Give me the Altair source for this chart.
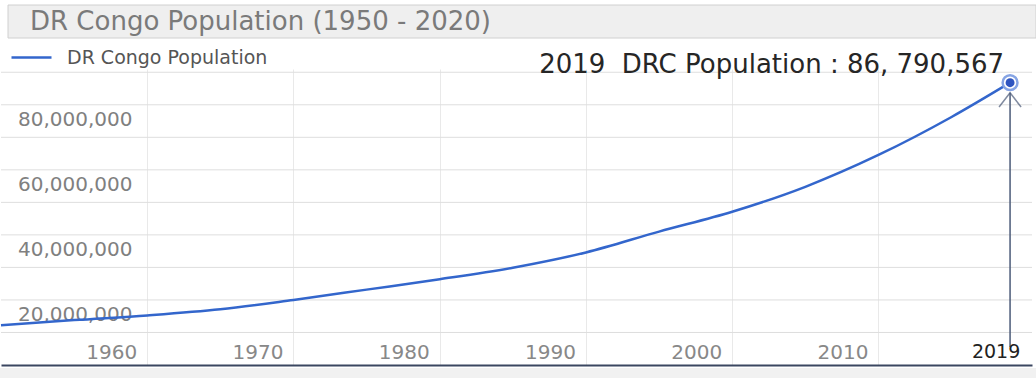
import altair as alt
import pandas as pd

# ---- data ----
years = [1950, 1955, 1960, 1965, 1970, 1975, 1980, 1985, 1990, 1995, 2000, 2005, 2010, 2015, 2019]
population = [12184000, 13800000, 15248000, 17130000, 20010000, 23176000, 26357000, 29906000,
              34612000, 41015000, 47106000, 54786000, 64564000, 76245000, 86790567]
series_name = "DR Congo Population"
title_text = ["DR Congo Population (1950 - 2020)"]

x_ticks = [1960, 1970, 1980, 1990, 2000, 2010]
y_grid = [10000000, 20000000, 30000000, 40000000, 50000000, 60000000, 70000000, 80000000, 90000000]
y_labels = [20000000, 40000000, 60000000, 80000000]

highlight_year = [2019]
highlight_value = [86790567]
highlight_text = ["2019\u00a0 DRC Population : 86, 790,567"]
highlight_tick = ["2019"]
arrow_low = [5500000]
arrow_high = [83700000]

df = pd.DataFrame({"year": years, "population": population, "series": series_name})
hl = pd.DataFrame({
    "year": highlight_year,
    "population": highlight_value,
    "label": highlight_text,
    "tick": highlight_tick,
    "low": arrow_low,
    "high": arrow_high,
    "zero": [0],
})
grid_df = pd.DataFrame({"v": y_grid})
ylab_df = pd.DataFrame({"v": y_labels})

FONT = "DejaVu Sans"
xscale = alt.Scale(domain=[1950, 2020.5], nice=False, zero=False)
yscale = alt.Scale(domain=[0, 91000000], nice=False)

gridlines = alt.Chart(grid_df).mark_rule(color="#dedede", strokeWidth=1).encode(
    y=alt.Y("v:Q", scale=yscale, axis=None))

ylabels = alt.Chart(ylab_df).mark_text(
    align="left", baseline="top", dx=0, dy=5, font=FONT, fontSize=20, color="#808080"
).encode(x=alt.value(17), y=alt.Y("v:Q", scale=yscale, axis=None),
         text=alt.Text("v:Q", format=","))

line = alt.Chart(df).mark_line(strokeWidth=2.5, interpolate="monotone").encode(
    x=alt.X("year:Q", scale=xscale, title=None,
            axis=alt.Axis(values=x_ticks, format="d", grid=True, gridColor="#e9e9e9",
                          domain=True, domainColor="#3a4660", domainWidth=1.8,
                          ticks=False, tickSize=0, labelPadding=-13, labelBaseline="middle",
                          labelOffset=-36, labelFont=FONT, labelFontSize=20,
                          labelColor="#888888", labelFlush=False, labelOverlap=False)),
    y=alt.Y("population:Q", scale=yscale, axis=None),
    color=alt.Color("series:N",
                    scale=alt.Scale(domain=[series_name], range=["#3366cc"]),
                    legend=alt.Legend(orient="none", legendX=9, legendY=-33, title=None,
                                      symbolType="stroke", symbolSize=1600,
                                      symbolStrokeWidth=2.5, labelFont=FONT,
                                      labelFontSize=19, labelColor="#555555",
                                      labelOffset=14, labelLimit=400, padding=0)),
)

base = alt.Chart(hl)

title_box = alt.Chart(pd.DataFrame({"k": [0]})).mark_rect(
    fill="#efefef", stroke="#d0d0d0", strokeWidth=1
).encode(x=alt.value(7), x2=alt.value(1035), y=alt.value(-64), y2=alt.value(-31))

title_mark = alt.Chart(pd.DataFrame({"t": title_text})).mark_text(
    align="left", baseline="middle", font=FONT, fontSize=26, color="#7a7a7a"
).encode(x=alt.value(29), y=alt.value(-47), text="t:N")

bottom_band = alt.Chart(pd.DataFrame({"k": [0]})).mark_rect(fill="#f1f1f1").encode(
    x=alt.value(-1), x2=alt.value(1035), y=alt.value(299), y2=alt.value(309))

arrow = base.mark_rule(color="#4b5a78", strokeWidth=1.5).encode(
    x=alt.X("year:Q", scale=xscale), y=alt.Y("low:Q", scale=yscale, axis=None), y2="high:Q")

arrow_head = base.mark_point(shape="M -1 1.3 L 0 0 L 1 1.3", filled=False, size=484,
                             strokeWidth=1.5, color="#4b5a78").encode(
    x=alt.X("year:Q", scale=xscale), y=alt.Y("high:Q", scale=yscale, axis=None))

ring = base.mark_point(shape="circle", filled=True, fill="white", stroke="#86a4e4",
                       strokeWidth=2.5, size=220, opacity=1).encode(
    x=alt.X("year:Q", scale=xscale), y=alt.Y("population:Q", scale=yscale, axis=None))

dot = base.mark_point(shape="circle", filled=True, color="#2f55c0", size=80, opacity=1).encode(
    x=alt.X("year:Q", scale=xscale), y=alt.Y("population:Q", scale=yscale, axis=None))

ann = base.mark_text(align="right", baseline="alphabetic", dx=-6, dy=-10, font=FONT,
                     fontSize=26, color="#262626").encode(
    x=alt.X("year:Q", scale=xscale), y=alt.Y("population:Q", scale=yscale, axis=None),
    text="label:N")

tick2019 = base.mark_text(align="center", baseline="middle", dx=-14, dy=-13, font=FONT,
                          fontSize=19, color="#222222").encode(
    x=alt.X("year:Q", scale=xscale), y=alt.Y("zero:Q", scale=yscale, axis=None), text="tick:N")

chart = alt.layer(title_box, title_mark, bottom_band, gridlines, ylabels, line, arrow,
                  arrow_head, ring, dot, ann, tick2019).properties(
    width=1031,
    height=296,
    autosize=alt.AutoSizeParams(type="none"),
    padding={"left": 1, "top": 69, "right": 4, "bottom": 13},
    background="white",
).configure_view(stroke=None)

chart.save("out.html", embed_options={"renderer": "svg", "actions": False})
